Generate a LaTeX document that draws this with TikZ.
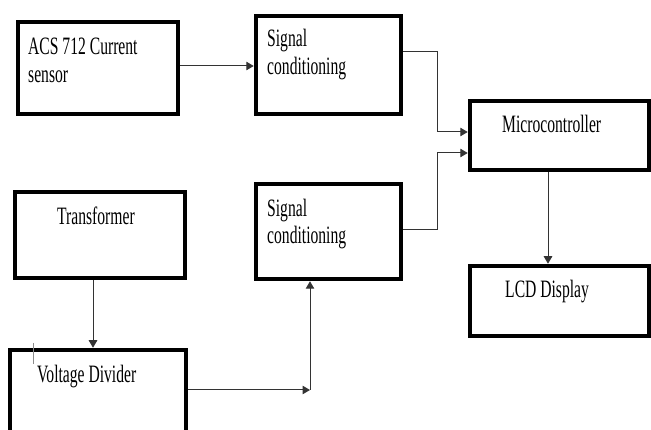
\documentclass[tikz,border=0pt]{standalone}
\usepackage{fontspec}
\newfontfamily\tnr[FakeStretch=0.625]{Liberation Serif}
\usetikzlibrary{arrows.meta}
\tikzset{
  blk/.style={draw=black, line width=4.5pt, rectangle, inner sep=0pt},
  lbl/.style={anchor=base west, inner sep=0pt, font=\tnr\fontsize{25}{28}\selectfont},
  con/.style={draw=black!80, line width=1pt},
  arr/.style={con, -{Triangle[length=7.5pt,width=8.5pt]}}
}
\begin{document}
\begin{tikzpicture}[x=1pt,y=-1pt]
\useasboundingbox (0,0) rectangle (651,430);
\clip (0,0) rectangle (651,430);
% blocks
\node[blk, minimum width=160pt, minimum height=92pt] (acs) at (98,68) {};
\node[blk, minimum width=145pt, minimum height=98pt] (sig1) at (328.5,65) {};
\node[blk, minimum width=179pt, minimum height=69pt] (micro) at (559.5,135.5) {};
\node[blk, minimum width=179pt, minimum height=70pt] (lcd) at (559.5,301) {};
\node[blk, minimum width=170pt, minimum height=86pt] (trans) at (100,235) {};
\node[blk, minimum width=145pt, minimum height=95pt] (sig2) at (328.5,231.5) {};
\node[blk, minimum width=176pt, minimum height=100pt] (vd) at (98,400) {};
% labels
\node[lbl] (acsA) at (28,55) {ACS 712 Current};
\node[lbl] (acsB) at (28,83) {sensor};
\node[lbl] (s1A) at (267,47) {Signal};
\node[lbl] (s1B) at (267,75) {conditioning};
\node[lbl] (mcA) at (502,133) {Microcontroller};
\node[lbl] (lcdA) at (505,298) {LCD Display};
\node[lbl] (trA) at (57,225) {Transformer};
\node[lbl] (s2A) at (267,217) {Signal};
\node[lbl] (s2B) at (267,244) {conditioning};
\node[lbl] (vdA) at (37,383) {Voltage Divider};
% cursor tick
\draw[black!45, line width=1pt] (33,343) -- (33,364);
% connectors
\draw[arr] ([yshift=2pt]acs.east) -- ([yshift=2pt]acs.east -| sig1.west);
\draw[arr] ([yshift=13pt]sig1.east) -- ++(34,0) |- ([yshift=3.5pt]micro.west);
\draw[arr] ([yshift=1.5pt]sig2.east) -- ++(34,0) |- ([yshift=-17.5pt]micro.west);
\draw[arr] ([xshift=-11.5pt]micro.south) -- ([xshift=-11.5pt]micro.south |- lcd.north);
\draw[arr] ([xshift=-7pt]trans.south) -- ([xshift=-7pt]trans.south |- vd.north);
\coordinate (j) at (310,390);
\draw[arr] ([yshift=10pt]vd.east) -- (j);
\draw[arr] (j) -- (j |- sig2.south);
\end{tikzpicture}
\end{document}
